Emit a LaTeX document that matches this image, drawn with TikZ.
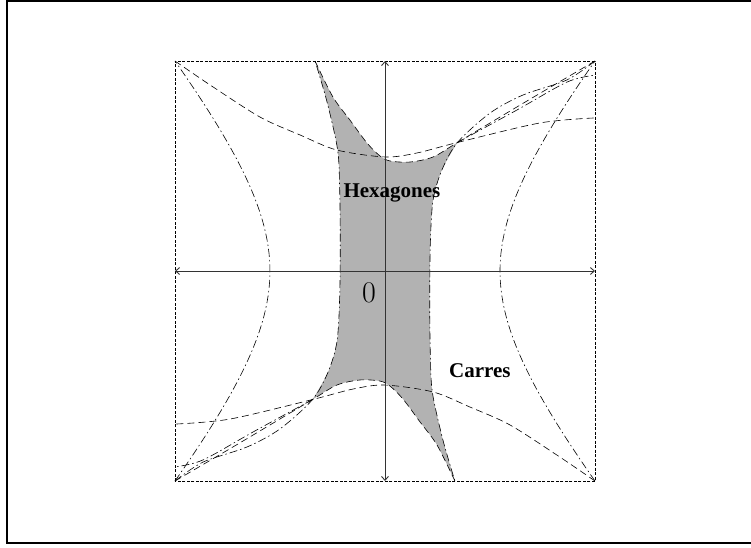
\documentclass[tikz,border=0pt]{standalone}
\usepackage{fontspec}
\usepackage{tikz}
\usetikzlibrary{arrows.meta}
\newfontfamily\labelfont{Liberation Serif}
\definecolor{zoneGray}{RGB}{178,178,178}
\tikzset{
  bord/.style={line width=0.9pt, dash pattern=on 3pt off 1.5pt},
  courbe/.style={line width=0.6pt, dash pattern=on 7pt off 4pt},
  courbept/.style={line width=0.6pt, dash pattern=on 8pt off 3pt on 1.5pt off 3pt},
  axe/.style={{Straight Barb[length=4pt,width=7pt]}-{Straight Barb[length=4pt,width=7pt]}, line width=0.9pt, black!80},
  etiquette/.style={font=\labelfont\bfseries\fontsize{21}{25}\selectfont, anchor=base},
}

\begin{document}
\begin{tikzpicture}[x=210pt, y=210pt]
  \useasboundingbox (-1.8333,-1.3190) rectangle (1.7429,1.2905);
  \draw[line width=1.2pt] (-1.8,-1.2952) rectangle (1.9,1.2857);

  % zone des hexagones
  \fill[zoneGray] plot[smooth] coordinates {(-0.333,1) (-0.248,0.829) (-0.167,0.719) (-0.086,0.61) (-0.024,0.548) (0.024,0.524) (0.119,0.519) (0.229,0.543) (0.345,0.612)}
    -- plot[smooth] coordinates {(0.345,0.612) (0.271,0.481) (0.229,0.338) (0.216,0.133) (0.213,-0.138) (0.216,-0.4) (0.226,-0.58) (0.276,-0.805) (0.333,-1)}
    -- plot[smooth] coordinates {(0.333,-1) (0.248,-0.829) (0.167,-0.719) (0.086,-0.61) (0.024,-0.548) (-0.024,-0.524) (-0.119,-0.519) (-0.229,-0.543) (-0.345,-0.612)}
    -- plot[smooth] coordinates {(-0.345,-0.612) (-0.271,-0.481) (-0.229,-0.338) (-0.216,-0.133) (-0.213,0.138) (-0.216,0.4) (-0.226,0.58) (-0.276,0.805) (-0.333,1)}
    -- cycle;

  \draw[bord] (-1,-1) rectangle (1,1);

  % branches laterales
  \draw[courbept] plot[domain=-1:1, samples=60] ({sqrt(0.3+0.7*\x*\x)},\x);
  \draw[courbept] plot[domain=-1:1, samples=60] ({-sqrt(0.3+0.7*\x*\x)},\x);

  % courbes du haut
  \draw[courbe] plot[smooth] coordinates {(-1,1) (-0.833,0.886) (-0.595,0.733) (-0.405,0.648) (-0.229,0.576) (0,0.543) (0.152,0.562) (0.345,0.612) (0.738,0.705) (1,0.729)};
  \draw[courbept] plot[smooth] coordinates {(1,1) (0.867,0.91) (0.657,0.838) (0.5,0.752) (0.345,0.612) (0.271,0.481) (0.229,0.338) (0.216,0.133) (0.213,-0.138) (0.216,-0.4) (0.226,-0.58) (0.276,-0.805) (0.333,-1)};
  \draw[courbe] plot[smooth] coordinates {(1,1) (0.67,0.806) (0.345,0.612) (0.229,0.543) (0.119,0.519) (0.024,0.524) (-0.024,0.548) (-0.086,0.61) (-0.167,0.719) (-0.248,0.829) (-0.333,1)};
  \draw[courbept] plot[smooth] coordinates {(0.345,0.612) (0.629,0.767) (0.867,0.9) (1,0.933)};

  % courbes du bas
  \draw[courbe] plot[smooth] coordinates {(1,-1) (0.833,-0.886) (0.595,-0.733) (0.405,-0.648) (0.229,-0.576) (0,-0.543) (-0.152,-0.562) (-0.345,-0.612) (-0.738,-0.705) (-1,-0.729)};
  \draw[courbept] plot[smooth] coordinates {(-1,-1) (-0.867,-0.91) (-0.657,-0.838) (-0.5,-0.752) (-0.345,-0.612) (-0.271,-0.481) (-0.229,-0.338) (-0.216,-0.133) (-0.213,0.138) (-0.216,0.4) (-0.226,0.58) (-0.276,0.805) (-0.333,1)};
  \draw[courbe] plot[smooth] coordinates {(-1,-1) (-0.67,-0.806) (-0.345,-0.612) (-0.229,-0.543) (-0.119,-0.519) (-0.024,-0.524) (0.024,-0.548) (0.086,-0.61) (0.167,-0.719) (0.248,-0.829) (0.333,-1)};
  \draw[courbept] plot[smooth] coordinates {(-0.345,-0.612) (-0.629,-0.767) (-0.867,-0.9) (-1,-0.933)};

  % axes
  \draw[axe] (-1,0) -- (1,0);
  \draw[axe] (0,-1) -- (0,1);

  \node[etiquette] (hexa) at (0.033,0.348) {Hexagones};
  \node[etiquette] (carres) at (0.452,-0.505) {Carres};
  \node[anchor=base, font=\fontsize{30}{34}\selectfont] (zero) at (-0.076,-0.148) {0};
\end{tikzpicture}
\end{document}
